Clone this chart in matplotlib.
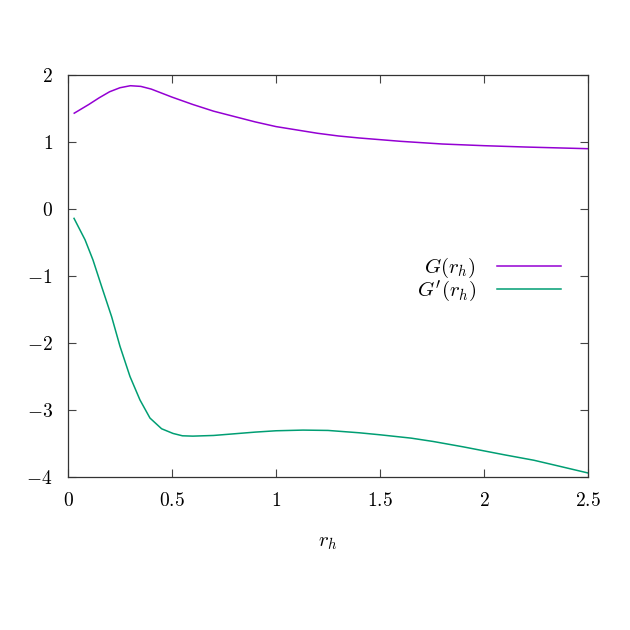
import matplotlib
matplotlib.use("Agg")
import matplotlib.pyplot as plt
import numpy as np

plt.rcParams['mathtext.fontset'] = 'cm'
plt.rcParams['font.family'] = 'serif'

x_G = [0.03, 0.1, 0.15, 0.2, 0.25, 0.3, 0.35, 0.4, 0.5, 0.6, 0.7, 0.8, 0.9, 1.0, 1.1, 1.2, 1.3, 1.4, 1.5, 1.6, 1.8, 2.0, 2.2, 2.5]
G = [1.43, 1.56, 1.66, 1.75, 1.81, 1.84, 1.83, 1.79, 1.67, 1.56, 1.46, 1.38, 1.30, 1.23, 1.18, 1.13, 1.09, 1.06, 1.035, 1.01, 0.97, 0.945, 0.925, 0.90]

x_Gp = [0.029, 0.082, 0.12, 0.162, 0.21, 0.25, 0.298, 0.346, 0.394, 0.45, 0.505, 0.55, 0.60, 0.7, 0.8, 0.9, 1.0, 1.13, 1.25, 1.4, 1.5, 1.65, 1.756, 1.9, 2.0, 2.1, 2.24, 2.35, 2.5]
Gp = [-0.14, -0.46, -0.76, -1.16, -1.61, -2.05, -2.50, -2.85, -3.12, -3.28, -3.35, -3.385, -3.39, -3.38, -3.355, -3.33, -3.31, -3.30, -3.305, -3.34, -3.37, -3.42, -3.47, -3.55, -3.61, -3.67, -3.75, -3.83, -3.94]

xticks = [0, 0.5, 1, 1.5, 2, 2.5]
xticklabels = ['$0$', '$0.5$', '$1$', '$1.5$', '$2$', '$2.5$']
yticks = [-4, -3, -2, -1, 0, 1, 2]
yticklabels = ['$-4$', '$-3$', '$-2$', '$-1$', '$0$', '$1$', '$2$']

fig = plt.figure(figsize=(6.3, 6.3), dpi=100)
ax = fig.add_axes([68/630, 1-477/630, 520/630, 402/630])

ax.plot(x_G, G, color='#9400D3', lw=1.1, label=r'$G(r_h)$')
ax.plot(x_Gp, Gp, color='#009E73', lw=1.1, label=r"$G'(r_h)$")

ax.set_xlim(0, 2.5)
ax.set_ylim(-4, 2)
ax.set_xticks(xticks)
ax.set_xticklabels(xticklabels, fontsize=14)
ax.set_yticks(yticks)
ax.set_yticklabels(yticklabels, fontsize=14)
ax.tick_params(direction='in', length=6, width=0.8, top=True, right=True, color='#444444')
ax.tick_params(axis='x', pad=11)
ax.tick_params(axis='y', pad=11)
for s in ax.spines.values():
    s.set_linewidth(0.9)
    s.set_color('#333333')
ax.set_xlabel(r'$r_h$', fontsize=15, labelpad=16)

leg = ax.legend(loc='center right', bbox_to_anchor=(0.985, 0.49), frameon=False,
                markerfirst=False, fontsize=15, handlelength=3.1, handletextpad=1.0,
                labelspacing=-0.1)
for t in leg.get_texts():
    t.set_ha('right')

fig.savefig('out.png', dpi=100)
